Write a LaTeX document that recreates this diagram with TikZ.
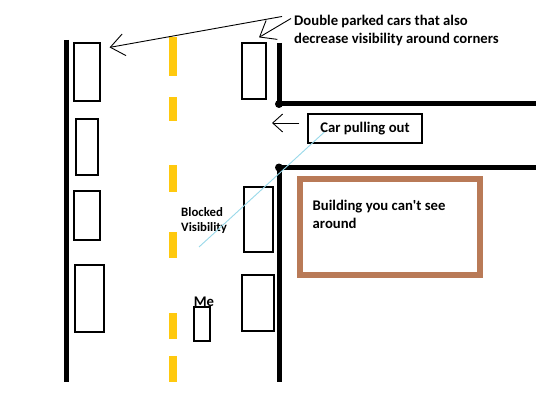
\documentclass[tikz,border=0pt]{standalone}
\usepackage{fontspec}
\setmainfont{Carlito}
\usetikzlibrary{arrows.meta}
\definecolor{paintyellow}{HTML}{FFC90E}
\definecolor{paintbrown}{HTML}{B97A57}
\definecolor{paintblue}{HTML}{99D9EA}

\begin{document}
\begin{tikzpicture}[x=1pt, y=-1pt,
    car/.style={rectangle, draw, line width=1.2pt, inner sep=0pt},
    road/.style={line width=5pt, line join=round},
    lane/.style={fill=paintyellow},
    note/.style={font=\fontsize{14.7}{18}\selectfont\bfseries, align=left, inner sep=1pt},
    small/.style={font=\fontsize{12.8}{15}\selectfont\bfseries, align=left, inner sep=1pt},
    pointer/.style={-{Straight Barb[length=14pt, width=22pt]}, line width=0.9pt},
    sight/.style={draw=paintblue, line width=0.9pt}
]
\path[use as bounding box, fill=white] (0,0) rectangle (536,404);

\draw[road] (66,40) -- (66,382);
\draw[road] (279,43) -- (279,104) -- (536,104);
\draw[road] (536,167.5) -- (279,167.5) -- (279,382);
\fill (279,104) circle[radius=4pt];
\fill (279,167.5) circle[radius=4pt];

\foreach \ya/\yb in {37/76, 97/121, 165/192, 232/258, 313/339, 356/382}
  \fill[lane] (169,\ya) rectangle (177,\yb);

\node[car, minimum width=26, minimum height=58] (lcarA) at (87,72)      {};
\node[car, minimum width=22, minimum height=56] (lcarB) at (87,147)     {};
\node[car, minimum width=26, minimum height=49] (lcarC) at (87,215.5)   {};
\node[car, minimum width=29, minimum height=67] (lcarD) at (89.5,298.5) {};

\node[car, minimum width=24, minimum height=56] (rcarA) at (254,71)      {};
\node[car, minimum width=29, minimum height=65] (rcarB) at (258.5,219.5) {};
\node[car, minimum width=32, minimum height=56] (rcarC) at (258,303)     {};

\node[car, minimum width=16, minimum height=34] (mecar) at (202,324) {};
\node[note] (melabel) at (204,302) {Me};

\node[draw=paintbrown, line width=6pt, minimum width=180, minimum height=96] (building) at (389.5,226.5) {};
\node[note, anchor=west] (bldtext) at (311.5,214) {Building you can\textquotesingle t see\\around};

\node[car, note, minimum width=114, minimum height=29] (pullbox) at (365,128.5) {Car pulling out};
\coordinate (pulltip) at (272,123);
\draw[pointer, -{Straight Barb[length=10pt, width=18pt]}] ([xshift=-8pt, yshift=5.5pt]pullbox.west) -- (pulltip);

\node[small, anchor=west] (blocked) at (180,220.5) {Blocked\\Visibility};
\coordinate (blindspot) at (199,247);
\draw[sight] (blindspot) -- ([xshift=17pt, yshift=-3.5pt]pullbox.west);

\node[note, anchor=west] (dpnote) at (293,30) {Double parked cars that also\\decrease visibility around corners};
\draw[pointer] ([xshift=-11pt, yshift=-3pt]dpnote.north west) -- ([xshift=9pt, yshift=-5pt]lcarA.north east);
\draw[pointer] ([xshift=-2pt, yshift=-5pt]dpnote.north west) -- ([xshift=5pt, yshift=5pt]rcarA.north);
\end{tikzpicture}
\end{document}
